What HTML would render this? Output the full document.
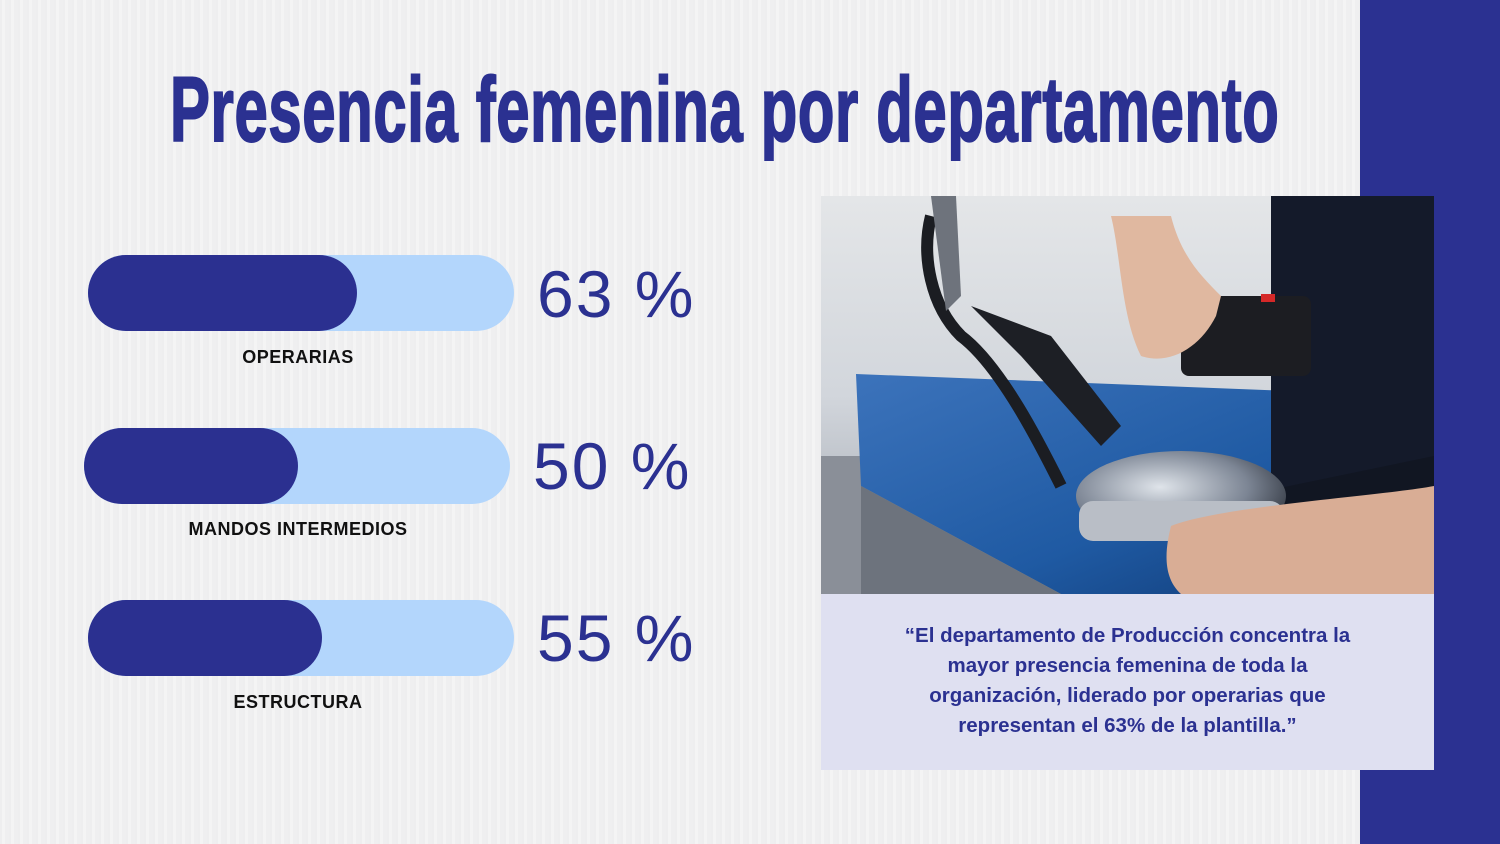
<!DOCTYPE html>
<html><head><meta charset="utf-8"><style>
html,body{margin:0;padding:0}
body{width:1500px;height:844px;position:relative;overflow:hidden;background:#f3f3f4;font-family:"Liberation Sans",sans-serif}
.bg{position:absolute;inset:0;background:repeating-linear-gradient(90deg,rgba(0,0,0,0.02) 0 2px,rgba(255,255,255,0.05) 2px 5px,rgba(0,0,0,0.015) 5px 9px)}
.side{position:absolute;left:1360px;top:0;width:140px;height:844px;background:#2b3191}
h1{position:absolute;left:170px;top:58px;margin:0;font-size:92px;font-weight:bold;color:#2b3191;transform:scaleX(0.65);transform-origin:0 0;letter-spacing:1px;white-space:nowrap;-webkit-text-stroke:2px #2b3191}
.bar{position:absolute;height:76px;border-radius:38px;background:#b3d6fc;width:426px}
.bar i{position:absolute;left:0;top:0;height:76px;border-radius:38px;background:#2b3090}
.pct{position:absolute;left:537px;font-size:66px;color:#2b3191;letter-spacing:2px}
.lab{position:absolute;width:426px;text-align:center;font-weight:bold;font-size:18px;color:#111;letter-spacing:0.5px}
.photo{position:absolute;left:821px;top:196px;width:613px;height:398px}
.cap{position:absolute;left:821px;top:594px;width:613px;height:176px;background:#dfe0f1;color:#2b3191;font-weight:bold;font-size:20.5px;line-height:30px;text-align:center;box-sizing:border-box;padding-top:27px}
</style></head><body>
<div class="bg"></div>
<div class="side"></div>
<h1>Presencia femenina por departamento</h1>

<div class="bar" style="left:88px;top:255px"><i style="width:269px"></i></div>
<div class="pct" style="top:256px">63 %</div>
<div class="lab" style="left:85px;top:347px">OPERARIAS</div>

<div class="bar" style="left:84px;top:428px"><i style="width:214px"></i></div>
<div class="pct" style="top:428px;left:533px">50 %</div>
<div class="lab" style="left:85px;top:519px">MANDOS INTERMEDIOS</div>

<div class="bar" style="left:88px;top:600px"><i style="width:234px"></i></div>
<div class="pct" style="top:600px">55 %</div>
<div class="lab" style="left:85px;top:692px">ESTRUCTURA</div>

<svg class="photo" viewBox="0 0 613 398">
<defs>
<linearGradient id="wall" x1="0" y1="0" x2="0" y2="1"><stop offset="0" stop-color="#e4e6e8"/><stop offset="0.5" stop-color="#d2d6dc"/><stop offset="1" stop-color="#9ea4ad"/></linearGradient>
<linearGradient id="board" x1="0" y1="0" x2="1" y2="1"><stop offset="0" stop-color="#3c73bb"/><stop offset="0.6" stop-color="#1f5aa3"/><stop offset="1" stop-color="#103a75"/></linearGradient>
<radialGradient id="iron" cx="0.4" cy="0.4" r="0.7"><stop offset="0" stop-color="#dfe4ea"/><stop offset="0.6" stop-color="#7c8594"/><stop offset="1" stop-color="#2a2f38"/></radialGradient>
</defs>
<rect width="613" height="398" fill="url(#wall)"/>
<rect x="0" y="260" width="260" height="138" fill="#8a8f98"/>
<polygon points="35,178 470,195 560,330 380,398 240,398 40,290" fill="url(#board)"/>
<polygon points="40,290 240,398 40,398" fill="#6d737d"/>
<rect x="450" y="0" width="163" height="398" fill="#141a2a"/>
<polygon points="420,300 613,260 613,398 470,398" fill="#111622"/>
<path d="M110,20 C100,60 110,110 140,140 C180,170 220,250 240,290" stroke="#1b1d22" stroke-width="12" fill="none"/>
<path d="M110,0 L135,0 L140,100 L125,115 Z" fill="#6e737c"/>
<path d="M150,110 L230,140 L300,230 L280,250 L200,160 Z" fill="#1d1f25"/>
<ellipse cx="360" cy="300" rx="105" ry="45" fill="url(#iron)"/>
<rect x="258" y="305" width="205" height="40" rx="14" fill="#b9bec6"/>
<rect x="360" y="100" width="130" height="80" rx="8" fill="#1c1d22"/>
<rect x="440" y="98" width="14" height="8" fill="#d52828"/>
<path d="M290,20 C300,60 300,120 320,160 C350,170 380,150 395,120 L400,100 C380,80 360,60 350,20 Z" fill="#e0b8a0"/>
<path d="M350,330 C400,310 560,300 613,290 L613,398 L360,398 C340,380 345,350 350,330 Z" fill="#d9ad95"/>
</svg>

<div class="cap">“El departamento de Producción concentra la<br>mayor presencia femenina de toda la<br>organización, liderado por operarias que<br>representan el 63% de la plantilla.”</div>
</body></html>
